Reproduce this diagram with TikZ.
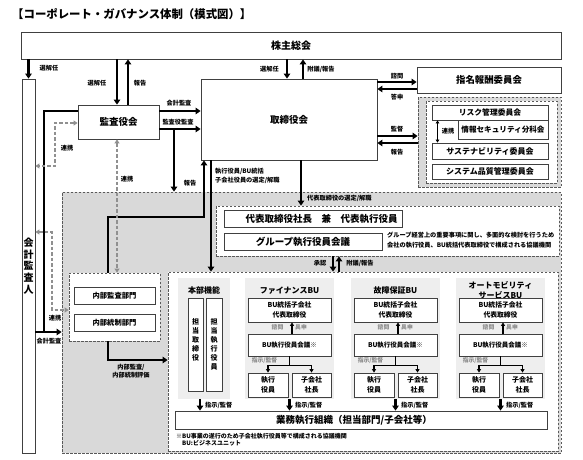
\documentclass[tikz,border=0pt]{standalone}
\usepackage{fontspec}
\setmainfont{Noto Sans CJK JP}
\usetikzlibrary{arrows.meta}
\newcommand\myfs[1]{\fontsize{#1}{#1}\selectfont}
\definecolor{bgray}{HTML}{D9D9D9}
\definecolor{pgray}{HTML}{EEEEEE}
\definecolor{bord}{HTML}{404040}
\definecolor{dgray}{HTML}{909090}
\definecolor{lgtxt}{HTML}{8A8A8A}
\newcommand\myrect[7]{\node[#6,minimum width={(#4)-(#2)},minimum height={(#5)-(#3)}] (#1) at ({((#2)+(#4))/2},{((#3)+(#5))/2}) {#7};}
\newcommand\mybu[3]{%
\myrect{#1p}{#2-3}{278}{#2+86}{399}{fill=pgray,draw=none,inner sep=0pt}{}
\node[font=\bfseries\fontsize{8}{10}\selectfont,align=center,inner sep=0pt] (#1t) at ({#2+41.5},290.5) {#3};
\myrect{#1a}{#2}{298}{#2+83}{322}{box,align=center,font=\bfseries\fontsize{6.8}{9.5}\selectfont}{BU統括子会社\\代表取締役}
\node[glbl] (#1s) at ({#2+29.5},327.5) {諮問};
\node[glbl] (#1g) at ({#2+53},327.5) {具申};
\myrect{#1b}{#2}{334}{#2+83}{356}{box,font=\bfseries\myfs{6.5}}{BU執行役員会議※}
\node[glbl] (#1k) at ({#2+16.5},360.5) {指示/監督};
\myrect{#1c}{#2}{373}{#2+40}{397}{box,align=center,font=\bfseries\fontsize{7}{10}\selectfont}{執行\\役員}
\myrect{#1d}{#2+44}{373}{#2+83}{397}{box,align=center,font=\bfseries\fontsize{7}{10}\selectfont}{子会社\\社長}
\coordinate (#1x) at ({#2+44},0);
\draw[arrs] (#1x |- #1b.north) -- (#1x |- #1a.south);
\draw[line width=1.2pt] (#1b.south) -- ++(0,9) coordinate (#1m);
\draw[line width=1.2pt] (#1c.north |- #1m) -- (#1d.north |- #1m);
\draw[arrs] (#1c.north |- #1m) -- (#1c.north);
\draw[arrs] (#1d.north |- #1m) -- (#1d.north);
\draw[arr] (#1b |- #1p.south) -- (#1b |- gyomu.north);
\node[lbl,anchor=west] (#1l) at ({#2+47},405) {指示/監督};
}
\begin{document}
\begin{tikzpicture}[x=1pt,y=-1pt,
  box/.style={draw=bord,fill=white,line width=0.8pt,inner sep=0pt},
  panel/.style={draw=black!65,dash pattern=on 2.5pt off 1.5pt,line width=0.8pt,inner sep=0pt},
  arr/.style={line width=2.3pt,-{Triangle[length=5pt,width=6.5pt]}},
  arrs/.style={line width=1.2pt,-{Triangle[length=3.5pt,width=4pt]}},
  darr/.style={color=dgray,line width=1.5pt,dash pattern=on 3.5pt off 2pt,{Triangle[length=4pt,width=5pt]}-{Triangle[length=4pt,width=5pt]}},
  lbl/.style={font=\bfseries\myfs{6.2},inner sep=0pt},
  glbl/.style={font=\bfseries\myfs{5.8},text=lgtxt,inner sep=0pt},
]
\useasboundingbox (0,0) rectangle (583,459);
\fill[white] (0,0) rectangle (583,459);

\node[anchor=west,font=\bfseries\myfs{11.4},inner sep=0pt] (title) at (12,14) {【コーポレート・ガバナンス体制（模式図）】};

% top boxes
\myrect{kabu}{21}{32}{561}{59}{box,font=\bfseries\myfs{10}}{株主総会}
\myrect{kaikei}{22}{79}{35}{453}{box,align=center,font=\bfseries\fontsize{10}{11.6}\selectfont}{会\\計\\監\\査\\人}
\myrect{kansa}{78}{105}{159}{139}{box,font=\bfseries\myfs{9.5}}{監査役会}
\myrect{tori}{201}{79}{377}{160}{box,font=\bfseries\myfs{9.5}}{取締役会}
\myrect{shimei}{417}{67}{561}{93}{box,font=\bfseries\myfs{9.4}}{指名報酬委員会}

% committees
\myrect{cpo}{418}{97}{561}{187}{panel,fill=bgray}{}
\myrect{cpi}{426}{101}{557}{183}{panel,fill=white}{}
\myrect{risk}{432}{105}{548}{120}{box,font=\bfseries\myfs{7.8}}{リスク管理委員会}
\myrect{joho}{458}{120}{548}{139}{box,font=\bfseries\myfs{7.6}}{情報セキュリティ分科会}
\myrect{sust}{432}{143}{548}{159}{box,font=\bfseries\myfs{8}}{サステナビリティ委員会}
\myrect{sys}{432}{164}{548}{179}{box,font=\bfseries\myfs{8}}{システム品質管理委員会}
\coordinate (c437) at (437.5,0);
\draw[line width=1pt,{Triangle[length=3pt,width=3.5pt]}-{Triangle[length=3pt,width=3.5pt]}] (c437 |- risk.south) -- (c437 |- sust.north);
\node[lbl] (lrenkei4) at (448,131) {連携};

% gray execution region
\myrect{gray}{62}{192}{561}{453}{panel,fill=bgray}{}
\myrect{dpanel}{216}{206}{559}{256}{panel,fill=white}{}
\myrect{daihyo}{224}{210}{402}{227}{box,font=\bfseries\myfs{9.5}}{\hspace*{17pt}代表取締役社長　兼　代表執行役員}
\myrect{group}{224}{233}{382}{250}{box,font=\bfseries\myfs{9.5}}{グループ執行役員会議}
\node[anchor=north west,align=left,inner sep=0pt,font=\bfseries\fontsize{6.2}{10}\selectfont] (desc) at (387,232) {グループ経営上の重要事項に関し、多面的な検討を行うため\\会社の執行役員、BU統括代表取締役で構成される協議機関};

\myrect{npanel}{69}{273}{160}{341}{panel,fill=white}{}
\myrect{naibukansa}{74}{287}{155}{304}{box,font=\bfseries\myfs{7.3}}{内部監査部門}
\myrect{naibutosei}{74}{314}{155}{331}{box,font=\bfseries\myfs{7.3}}{内部統制部門}

\myrect{bpanel}{168}{272}{558}{451}{panel,fill=white}{}
\myrect{gyomu}{175}{411}{547}{429}{box,font=\bfseries\myfs{9.5}}{業務執行組織（担当部門/子会社等）\hspace*{14pt}}

% honbu
\myrect{honbu}{178}{278}{230}{399}{fill=pgray,draw=none,inner sep=0pt}{}
\node[font=\bfseries\myfs{8},inner sep=0pt] (honbut) at (204,290.5) {本部機能};
\myrect{tanto1}{188}{298}{203}{391}{box}{}
\myrect{tanto2}{206}{298}{222}{391}{box}{}
\node[anchor=north,align=center,inner sep=0pt,font=\bfseries\fontsize{7}{9}\selectfont] (tanto1t) at (195.5,318) {担\\当\\取\\締\\役};
\node[anchor=north,align=center,inner sep=0pt,font=\bfseries\fontsize{7}{9}\selectfont] (tanto2t) at (214,318) {担\\当\\執\\行\\役\\員};
\coordinate (c200) at (200,0);
\draw[arr] (c200 |- honbu.south) -- (c200 |- gyomu.north);
\node[lbl,anchor=west] (honbul) at (205,405) {指示/監督};

\mybu{fin}{248}{ファイナンスBU}
\mybu{kos}{354}{故障保証BU}
\mybu{aut}{459}{オートモビリティ\\サービスBU}

\node[anchor=west,inner sep=0pt,font=\bfseries\myfs{6}] (fn1) at (176,436) {※BU事業の遂行のため子会社執行役員等で構成される協議機関};
\node[anchor=west,inner sep=0pt,font=\bfseries\myfs{6}] (fn2) at (182,443.5) {BU:ビジネスユニット};

% coordinates
\coordinate (c117) at (117,0);
\coordinate (c128) at (128,0);
\coordinate (c111) at (0,111);
\coordinate (c129) at (0,129);
\coordinate (c174) at (174,0);
\coordinate (c108) at (108,0);
\coordinate (c204) at (204,0);
\coordinate (c217) at (0,217);
\coordinate (c211) at (211,0);
\coordinate (c301) at (301,0);
\coordinate (c333) at (333,0);
\coordinate (c339) at (339,0);
\coordinate (c287) at (287,0);
\coordinate (c303) at (303,0);
\coordinate (c82) at (0,82);
\coordinate (c89) at (0,89);
\coordinate (c136) at (0,136);
\coordinate (c143) at (0,143);
\coordinate (c44) at (44,0);
\coordinate (c332) at (0,332);
\coordinate (c55) at (55,0);
\coordinate (c123) at (0,123);
\coordinate (c166) at (0,166);
\coordinate (c52) at (52,0);
\coordinate (c232) at (0,232);
\coordinate (c310) at (0,310);
\coordinate (c360) at (0,360);

% connectors
\draw[arr] (kaikei.north |- kabu.south) -- (kaikei.north);
\draw[arr] (c117 |- kabu.south) -- (c117 |- kansa.north);
\draw[arr] (c128 |- kansa.north) -- (c128 |- kabu.south);
\draw[arr] (c111 -| kansa.east) -- (c111 -| tori.west);
\draw[arr] (c129 -| kansa.east) -- (c129 -| tori.west);
\draw[arr] (c174 |- c129) -- (c174 |- gray.north);
\draw[arr] (c108 |- npanel.north) -- (c108 |- c217) -- (c204 |- c217) -- (c204 |- tori.south);
\draw[arr] (c211 |- tori.south) -- (c211 |- bpanel.north);
\draw[arr] (c301 |- tori.south) -- (c301 |- dpanel.north);
\draw[arr] (c333 |- dpanel.south) -- (c333 |- bpanel.north);
\draw[arr] (c339 |- bpanel.north) -- (c339 |- dpanel.south);
\draw[arr] (c287 |- kabu.south) -- (c287 |- tori.north);
\draw[arr] (c303 |- tori.north) -- (c303 |- kabu.south);
\draw[arr] (c82 -| tori.east) -- (c82 -| shimei.west);
\draw[arr] (c89 -| shimei.west) -- (c89 -| tori.east);
\draw[arr] (c136 -| tori.east) -- (c136 -| cpo.west);
\draw[arr] (c143 -| cpo.west) -- (c143 -| tori.east);
\draw[line width=2.3pt] (c111 -| kansa.west) -- (c44 |- c111) -- (c44 |- c332);
\draw[arr] (c332 -| kaikei.east) -- (c332 -| gray.west);
\draw[arr] (c108 |- npanel.south) -- (c108 |- c360) -- (c360 -| bpanel.west);
\draw[darr] (c123 -| kansa.west) -- (c55 |- c123) -- (c55 |- c166) -- (c166 -| kaikei.east);
\draw[darr] (c232 -| kaikei.east) -- (c52 |- c232) -- (c52 |- c310) -- (c310 -| npanel.west);
\draw[darr] (c117 |- kansa.south) -- (c117 |- npanel.north);

% labels
\node[lbl] (l1) at (49,68.5) {選解任};
\node[lbl] (l2) at (97,83) {選解任};
\node[lbl] (l3) at (140,83) {報告};
\node[lbl] (l4) at (179,103.5) {会計監査};
\node[lbl] (l5) at (178,122) {監査役監査};
\node[lbl] (l6) at (190,183) {報告};
\node[lbl,anchor=north west,align=left,font=\bfseries\fontsize{6.2}{9}\selectfont] (l7) at (215,168) {執行役員/BU統括\\子会社役員の選定/解職};
\node[lbl,anchor=west] (l8) at (307,198.5) {代表取締役の選定/解職};
\node[lbl] (l9) at (320,263.5) {承認};
\node[lbl] (l10) at (360,263.5) {附議/報告};
\node[lbl] (l11) at (269.5,69) {選解任};
\node[lbl] (l12) at (321,69) {附議/報告};
\node[lbl] (l13) at (397,76) {諮問};
\node[lbl] (l14) at (397,97) {答申};
\node[lbl] (l15) at (397,129) {監督};
\node[lbl] (l16) at (397,152) {報告};
\node[lbl] (l17) at (67,148) {連携};
\node[lbl] (l18) at (55,318) {連携};
\node[lbl] (l19) at (127,179) {連携};
\node[lbl] (l20) at (49,341) {会計監査};
\node[lbl,align=center,font=\bfseries\fontsize{6.2}{8.5}\selectfont] (l21) at (131,371) {内部監査/\\内部統制評価};
\end{tikzpicture}
\end{document}
